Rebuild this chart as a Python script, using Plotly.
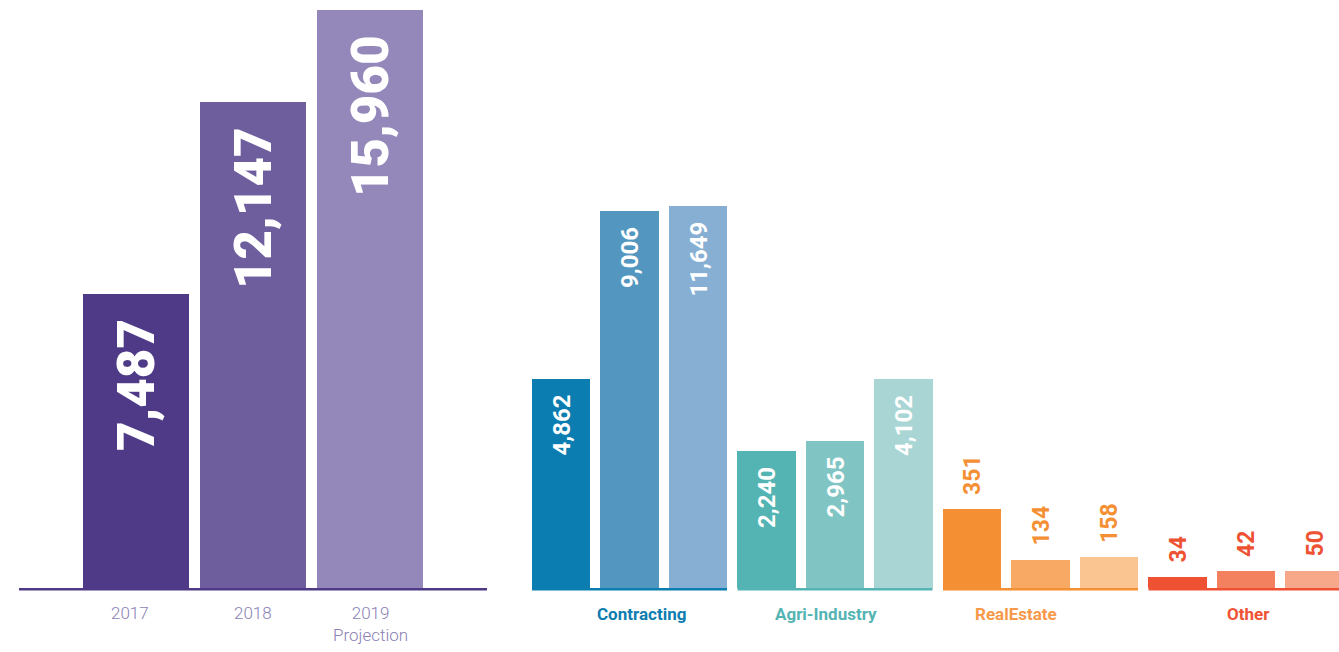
import plotly.graph_objects as go

# ---------------- data ----------------
years = ["2017", "2018", "2019"]
year_ticktext = ["2017", "2018", "2019<br>Projection"]
year_label_x = [-0.05, 1.0, 2.0]
left_values = [7487, 12147, 15960]
# displayed bar heights as drawn in the infographic (not to scale with the values)
left_heights = [294, 486, 578]
left_colors = ["#4e3a87", "#6f5e9d", "#9488ba"]

sectors = ["Contracting", "Agri-Industry", "RealEstate", "Other"]
contracting_values = [4862, 9006, 11649]
agri_values = [2240, 2965, 4102]
realestate_values = [351, 134, 158]
other_values = [34, 42, 50]

contracting_heights = [209, 377, 382]
agri_heights = [137, 147, 209]
realestate_heights = [79, 28, 31]
other_heights = [11, 17, 17]

contracting_colors = ["#0c7db0", "#5397c0", "#86afd3"]
agri_colors = ["#54b4b3", "#80c5c4", "#a9d5d5"]
realestate_colors = ["#f49033", "#f8aa64", "#fbc592"]
other_colors = ["#ef5233", "#f3805f", "#f7a78a"]

sector_main_colors = ["#0c7db0", "#54b4b3", "#f49033", "#ef5233"]
sector_label_colors = ["#0c7db0", "#54b4b3", "#f7994a", "#ef5233"]
labels_inside = [True, True, False, False]
cat_label_x = [1.168, 3.869, 6.642, 10.03]

sector_values = [contracting_values, agri_values, realestate_values, other_values]
sector_heights = [contracting_heights, agri_heights, realestate_heights, other_heights]
sector_colors = [contracting_colors, agri_colors, realestate_colors, other_colors]

W, H = 1339, 652
PLOT_H = 592.0  # plot area height in px (H - bottom margin)
fig = go.Figure()


def paper_y(px):
    return (PLOT_H - px) / PLOT_H


# ---------------- left panel ----------------
left_x = list(range(len(years)))
fig.add_trace(go.Bar(
    x=left_x, y=left_heights, width=0.906,
    marker=dict(color=left_colors, line=dict(width=0)),
    xaxis="x", yaxis="y", hoverinfo="skip", showlegend=False,
))

annotations = []
for i, (v, h) in enumerate(zip(left_values, left_heights)):
    annotations.append(dict(
        x=i, y=h, xref="x", yref="y", text=f"{v:,}", showarrow=False,
        textangle=-90, yanchor="top", xanchor="center", yshift=-23,
        font=dict(family="Roboto", size=51, color="white", weight=900),
    ))
for xl, t in zip(year_label_x, year_ticktext):
    annotations.append(dict(
        x=xl, y=paper_y(601), xref="x", yref="paper", text=t, showarrow=False,
        yanchor="top", xanchor="center",
        font=dict(family="Roboto", size=17, color="#8a7fb6", weight=300),
    ))

shapes = [dict(type="line", xref="x", yref="y", x0=-1, x1=3, y0=-1.2, y1=-1.2,
               line=dict(color="#4e3a87", width=2.5), layer="above")]

# ---------------- right panel ----------------
for g, name in enumerate(sectors):
    xs = [3 * g + k for k in range(3)]
    fig.add_trace(go.Bar(
        x=xs, y=sector_heights[g], width=0.847, name=name,
        marker=dict(color=sector_colors[g], line=dict(width=0)),
        xaxis="x2", yaxis="y", hoverinfo="skip", showlegend=False,
    ))
    shapes.append(dict(type="line", xref="x2", yref="y",
                       x0=xs[0] - 0.4235, x1=xs[-1] + 0.4235, y0=-1.2, y1=-1.2,
                       line=dict(color=sector_main_colors[g], width=2.5), layer="above"))
    for k in range(3):
        v = sector_values[g][k]
        h = sector_heights[g][k]
        if labels_inside[g]:
            annotations.append(dict(
                x=xs[k], y=h, xref="x2", yref="y", text=f"{v:,}", showarrow=False,
                textangle=-90, yanchor="top", xanchor="center", yshift=-14,
                font=dict(family="Roboto", size=24, color="white", weight="bold"),
            ))
        else:
            annotations.append(dict(
                x=xs[k], y=h, xref="x2", yref="y", text=f"{v:,}", showarrow=False,
                textangle=-90, yanchor="bottom", xanchor="center", yshift=12,
                font=dict(family="Roboto", size=23, color=sector_main_colors[g], weight="bold"),
            ))
    annotations.append(dict(
        x=cat_label_x[g], y=paper_y(614), xref="x2", yref="paper", text=name, showarrow=False,
        yanchor="middle", xanchor="center",
        font=dict(family="Roboto", size=17, color=sector_label_colors[g], weight="bold"),
    ))

fig.update_layout(
    width=W, height=H,
    margin=dict(l=0, r=0, t=0, b=H - int(PLOT_H), pad=0),
    paper_bgcolor="white", plot_bgcolor="white",
    bargap=0,
    xaxis=dict(domain=[19 / W, 487 / W], range=[-1, 3], visible=False, fixedrange=True),
    xaxis2=dict(domain=[527 / W, 1.0], range=[-0.4964, 11.3577], visible=False,
                anchor="y", fixedrange=True),
    yaxis=dict(domain=[0, 1], range=[-4, 588], visible=False, fixedrange=True),
    annotations=annotations,
    shapes=shapes,
)

fig.write_html("out.html", config={"displayModeBar": False},
               post_script="document.body.style.margin='0px';document.body.style.overflow='hidden';")
